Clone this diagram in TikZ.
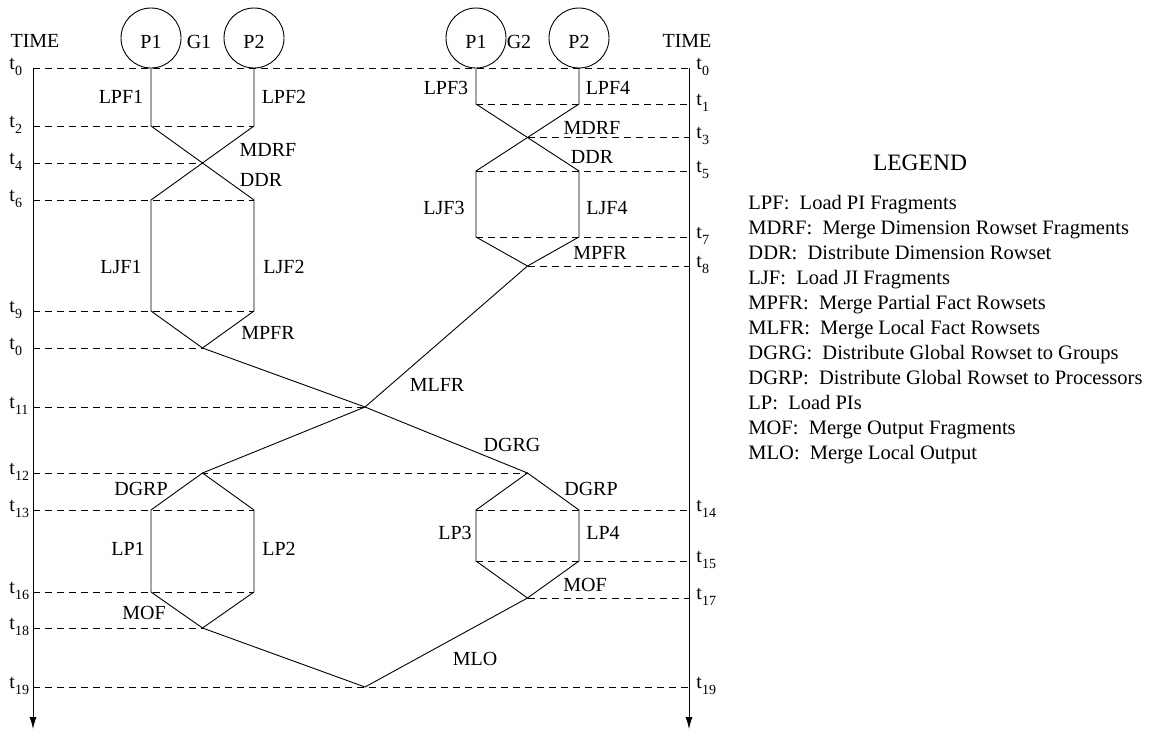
\documentclass[tikz,border=0pt]{standalone}
\usepackage{fontspec}
\setmainfont{Liberation Serif}
\usetikzlibrary{arrows.meta}
\newcommand{\tlab}[1]{t\raisebox{-6pt}{\fontsize{14}{14}\selectfont #1}}

\begin{document}
\begin{tikzpicture}[x=1pt, y=-1pt, line width=0.9pt,
	every node/.style={font=\fontsize{20}{24}\selectfont, inner sep=0pt},
	>={Latex[length=12pt, width=7pt]},
	proc/.style={draw, circle, minimum size=60pt},
	tline/.style={dash pattern=on 7pt off 5pt},
	tl/.style={anchor=base west},
	legitem/.style={anchor=base west, font=\fontsize{20.5}{24}\selectfont}]
	\useasboundingbox (0,0) rectangle (1151,731);
	% time axes
	\coordinate (L0) at (33,68);
	\coordinate (L1) at (33,729);
	\coordinate (R0) at (689,68);
	\coordinate (R1) at (689,729);
	\coordinate (TL) at (9,0);
	\coordinate (TR) at (696,0);
	\draw[->] (L0) -- (L1);
	\draw[->] (R0) -- (R1);
	\node (timeL) at (35,41) {TIME};
	\node (timeR) at (687,41) {TIME};
	% groups of processors
	\node[proc] (g1p1) at (151,38) {};
	\node[proc] (g1p2) at (254,38) {};
	\node (g1p1t) at (151,42) {P1};
	\node (g1p2t) at (254,42) {P2};
	\node (g1) at (199,42) {G1};
	\node[proc] (g2p1) at (476,38) {};
	\node[proc] (g2p2) at (579,38) {};
	\node (g2p1t) at (476,42) {P1};
	\node (g2p2t) at (579,42) {P2};
	\node (g2) at (519,42) {G2};
	% event points
	\coordinate (a2) at (151,126);  \coordinate (b2) at (254,126);
	\coordinate (x4) at (202.5,163);
	\coordinate (a6) at (151,200);  \coordinate (b6) at (254,200);
	\coordinate (a9) at (151,311);  \coordinate (b9) at (254,311);
	\coordinate (m10) at (202.5,348);
	\coordinate (c1) at (476,104);  \coordinate (d1) at (579,104);
	\coordinate (x3) at (527.5,137.5);
	\coordinate (c5) at (476,171);  \coordinate (d5) at (579,171);
	\coordinate (c7) at (476,237);  \coordinate (d7) at (579,237);
	\coordinate (m8) at (527.5,266);
	\coordinate (x11) at (365,407);
	\coordinate (g12) at (202.5,473); \coordinate (h12) at (527.5,473);
	\coordinate (a13) at (151,510); \coordinate (b13) at (254,510);
	\coordinate (c14) at (476,510); \coordinate (d14) at (579,510);
	\coordinate (c15) at (476,561); \coordinate (d15) at (579,561);
	\coordinate (a16) at (151,592); \coordinate (b16) at (254,592);
	\coordinate (h17) at (527.5,598);
	\coordinate (g18) at (202.5,628);
	\coordinate (x19) at (365,687);
	% time lines
	\draw[tline] (L0) -- (R0);
	\draw[tline] (a2 -| L0) -- (b2);
	\draw[tline] (x4 -| L0) -- (x4);
	\draw[tline] (a6 -| L0) -- (b6);
	\draw[tline] (a9 -| L0) -- (b9);
	\draw[tline] (m10 -| L0) -- (m10);
	\draw[tline] (x11 -| L0) -- (x11);
	\draw[tline] (g12 -| L0) -- (h12);
	\draw[tline] (a13 -| L0) -- (b13);
	\draw[tline] (a16 -| L0) -- (b16);
	\draw[tline] (g18 -| L0) -- (g18);
	\draw[tline] (x19 -| L0) -- (x19 -| R0);
	\draw[tline] (c1) -- (c1 -| R0);
	\draw[tline] (x3) -- (x3 -| R0);
	\draw[tline] (c5) -- (c5 -| R0);
	\draw[tline] (c7) -- (c7 -| R0);
	\draw[tline] (m8) -- (m8 -| R0);
	\draw[tline] (c14) -- (c14 -| R0);
	\draw[tline] (c15) -- (c15 -| R0);
	\draw[tline] (h17) -- (h17 -| R0);
	% time labels
	\node[tl] (tl0) at ([yshift=-1pt]L0 -| TL) {\tlab{0}};
	\node[tl] (tl2) at ([yshift=-1pt]a2 -| TL) {\tlab{2}};
	\node[tl] (tl4) at ([yshift=-1pt]x4 -| TL) {\tlab{4}};
	\node[tl] (tl6) at ([yshift=-1pt]a6 -| TL) {\tlab{6}};
	\node[tl] (tl9) at ([yshift=-1pt]a9 -| TL) {\tlab{9}};
	\node[tl] (tl10) at ([yshift=-1pt]m10 -| TL) {\tlab{0}};
	\node[tl] (tl11) at ([yshift=-1pt]x11 -| TL) {\tlab{11}};
	\node[tl] (tl12) at ([yshift=-1pt]g12 -| TL) {\tlab{12}};
	\node[tl] (tl13) at ([yshift=-1pt]a13 -| TL) {\tlab{13}};
	\node[tl] (tl16) at ([yshift=-1pt]a16 -| TL) {\tlab{16}};
	\node[tl] (tl18) at ([yshift=-1pt]g18 -| TL) {\tlab{18}};
	\node[tl] (tl19) at ([yshift=-1pt]x19 -| TL) {\tlab{19}};
	\node[tl] (tr0) at ([yshift=-1pt]R0 -| TR) {\tlab{0}};
	\node[tl] (tr1) at ([yshift=-1pt]c1 -| TR) {\tlab{1}};
	\node[tl] (tr3) at ([yshift=-1pt]x3 -| TR) {\tlab{3}};
	\node[tl] (tr5) at ([yshift=-1pt]c5 -| TR) {\tlab{5}};
	\node[tl] (tr7) at ([yshift=-1pt]c7 -| TR) {\tlab{7}};
	\node[tl] (tr8) at ([yshift=-1pt]m8 -| TR) {\tlab{8}};
	\node[tl] (tr14) at ([yshift=-1pt]c14 -| TR) {\tlab{14}};
	\node[tl] (tr15) at ([yshift=-1pt]c15 -| TR) {\tlab{15}};
	\node[tl] (tr17) at ([yshift=-1pt]h17 -| TR) {\tlab{17}};
	\node[tl] (tr19) at ([yshift=-1pt]x19 -| TR) {\tlab{19}};
	% activity lines
	\draw (g1p1) -- (a2) -- (b6) -- (b9) -- (m10);
	\draw (g1p2) -- (b2) -- (a6) -- (a9) -- (m10);
	\draw (g2p1) -- (c1) -- (d5) -- (d7) -- (m8);
	\draw (g2p2) -- (d1) -- (c5) -- (c7) -- (m8);
	\draw (m10) -- (x11) -- (h12);
	\draw (m8) -- (x11) -- (g12);
	\draw (g12) -- (a13) -- (a16) -- (g18) -- (b16) -- (b13) -- cycle;
	\draw (h12) -- (c14) -- (c15) -- (h17) -- (d15) -- (d14) -- cycle;
	\draw (g18) -- (x19) -- (h17);
	% activity labels
	\node (lpf1) at (121,97) {LPF1};
	\node (lpf2) at (284,97) {LPF2};
	\node (mdrf1) at (268,150) {MDRF};
	\node (ddr1) at (261,180) {DDR};
	\node (ljf1) at (121,267) {LJF1};
	\node (ljf2) at (284,267) {LJF2};
	\node (mpfr1) at (268,333) {MPFR};
	\node (lpf3) at (446,88) {LPF3};
	\node (lpf4) at (608,88) {LPF4};
	\node (mdrf2) at (592,128) {MDRF};
	\node (ddr2) at (592,157) {DDR};
	\node (ljf3) at (444,208) {LJF3};
	\node (ljf4) at (607,208) {LJF4};
	\node (mpfr2) at (600,253) {MPFR};
	\node (mlfr) at (437,385) {MLFR};
	\node (dgrg) at (512,445) {DGRG};
	\node (dgrp1) at (141,489) {DGRP};
	\node (dgrp2) at (591,489) {DGRP};
	\node (lp1) at (128,549) {LP1};
	\node (lp2) at (279,549) {LP2};
	\node (lp3) at (455,533) {LP3};
	\node (lp4) at (603,533) {LP4};
	\node (mof1) at (144,613) {MOF};
	\node (mof2) at (585,585) {MOF};
	\node (mlo) at (475,659) {MLO};
	% legend
	\node[font=\fontsize{23.5}{28}\selectfont] (legend) at (920,163) {LEGEND};
	\node[legitem] (leglpf) at (748,209) {LPF:\ \ Load PI Fragments};
	\node[legitem] (legmdrf) at (748,234) {MDRF:\ \ Merge Dimension Rowset Fragments};
	\node[legitem] (legddr) at (748,259) {DDR:\ \ Distribute Dimension Rowset};
	\node[legitem] (legljf) at (748,284) {LJF:\ \ Load JI Fragments};
	\node[legitem] (legmpfr) at (748,309) {MPFR:\ \ Merge Partial Fact Rowsets};
	\node[legitem] (legmlfr) at (748,334) {MLFR:\ \ Merge Local Fact Rowsets};
	\node[legitem] (legdgrg) at (748,359) {DGRG:\ \ Distribute Global Rowset to Groups};
	\node[legitem] (legdgrp) at (748,384) {DGRP:\ \ Distribute Global Rowset to Processors};
	\node[legitem] (leglp) at (748,409) {LP:\ \ Load PIs};
	\node[legitem] (legmof) at (748,434) {MOF:\ \ Merge Output Fragments};
	\node[legitem] (legmlo) at (748,459) {MLO:\ \ Merge Local Output};
\end{tikzpicture}
\end{document}
